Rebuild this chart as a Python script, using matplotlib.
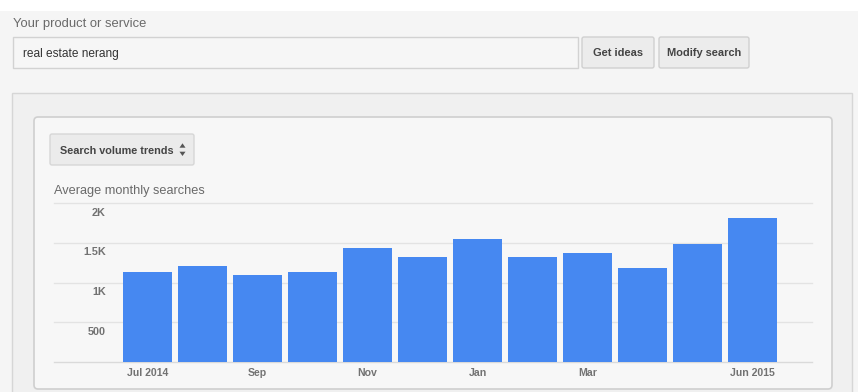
"""Keyword Planner screenshot: search volume trends for 'real estate nerang'."""

import matplotlib

matplotlib.use("Agg")
import matplotlib.pyplot as plt
from matplotlib.patches import FancyBboxPatch, Polygon, Rectangle

plt.rcParams["font.family"] = ["Liberation Sans", "DejaVu Sans"]

# --- data ---
months = ["Jul 2014", "Aug", "Sep", "Oct", "Nov", "Dec",
          "Jan", "Feb", "Mar", "Apr", "May", "Jun 2015"]
searches = [1130, 1210, 1090, 1130, 1440, 1320, 1550, 1320, 1370, 1180, 1480, 1810]
shown_ticks = [0, 2, 4, 6, 8, 11]
y_ticks = [500, 1000, 1500, 2000]
y_labels = ["500", "1K", "1.5K", "2K"]

W, H = 858, 392
BAR_BLUE = "#4688f1"
GREY_TXT = "#727272"

fig = plt.figure(figsize=(W / 100, H / 100), dpi=100)
fig.patch.set_facecolor("white")

# --- page chrome, drawn in pixel coords ---
bg = fig.add_axes([0, 0, 1, 1])
bg.set_xlim(0, W)
bg.set_ylim(H, 0)
bg.axis("off")

bg.add_patch(Rectangle((0, 11), W, H - 11, facecolor="#f5f5f5", edgecolor="none"))
bg.add_patch(Rectangle((12, 93), 840, H - 93 + 5, facecolor="#f0f0f0",
                       edgecolor="#d6d6d6", linewidth=1))

bg.text(13, 27, "Your product or service", fontsize=9.4, color="#6a6a6a", va="baseline")

# search box + buttons
bg.add_patch(Rectangle((13, 37), 565, 31, facecolor="#f6f6f6", edgecolor="#d2d2d2", lw=1))
bg.text(23, 57, "real estate nerang", fontsize=8.6, color="#333333", va="baseline")
for x0, x1, label in [(582, 654, "Get ideas"), (659, 749, "Modify search")]:
    bg.add_patch(FancyBboxPatch((x0, 37), x1 - x0, 31, boxstyle="round,pad=0,rounding_size=2",
                                facecolor="#ececec", edgecolor="#d0d0d0", lw=1))
    bg.text((x0 + x1) / 2, 56, label, fontsize=7.9, fontweight="bold", color="#444444",
            ha="center", va="baseline")

# chart card
bg.add_patch(FancyBboxPatch((34, 117), 798, 272, boxstyle="round,pad=0,rounding_size=4",
                            facecolor="#f7f7f7", edgecolor="#cfcfcf", lw=1.2))

# dropdown
bg.add_patch(FancyBboxPatch((50, 134), 144, 31, boxstyle="round,pad=0,rounding_size=2",
                            facecolor="#ebebeb", edgecolor="#d6d6d6", lw=1))
bg.text(60, 154, "Search volume trends", fontsize=7.8, fontweight="bold", color="#444444",
        va="baseline")
bg.add_patch(Polygon([(179.5, 147.7), (185.5, 147.7), (182.5, 143.3)], closed=True,
                     facecolor="#555555", edgecolor="none"))
bg.add_patch(Polygon([(179.5, 151.7), (185.5, 151.7), (182.5, 156)], closed=True,
                     facecolor="#555555", edgecolor="none"))

bg.text(54, 193.5, "Average monthly searches", fontsize=9.2, color="#6a6a6a", va="baseline")

# --- bar chart ---
left_px, right_px, top_px, bottom_px = 54, 812, 203, 362
ax = fig.add_axes([left_px / W, (H - bottom_px) / H,
                   (right_px - left_px) / W, (bottom_px - top_px) / H])
ax.patch.set_alpha(0)

x = list(range(len(months)))
ax.bar(x, searches, width=0.89, color=BAR_BLUE, zorder=3)

ax.set_xlim((left_px - 147.5) / 55, (right_px - 147.5) / 55)
ax.set_ylim(0, 2000)
for v in [0] + y_ticks:
    ax.axhline(v, color="#e3e3e3" if v else "#dadada", lw=1, zorder=1, clip_on=False)

for v, lab in zip(y_ticks, y_labels):
    ax.annotate(lab, xy=((106 - left_px) / (right_px - left_px), v),
                xycoords=("axes fraction", "data"), xytext=(0, -9.5),
                textcoords="offset pixels", ha="right", va="center",
                fontsize=7.8, fontweight="bold", color=GREY_TXT)

ax.set_xticks([x[i] for i in shown_ticks])
ax.set_xticklabels([months[i] for i in shown_ticks], fontsize=7.6, fontweight="bold",
                   color=GREY_TXT)
ax.tick_params(axis="x", length=0, pad=4.5)
ax.set_yticks([])
for s in ax.spines.values():
    s.set_visible(False)

fig.savefig("out.png", dpi=100)
